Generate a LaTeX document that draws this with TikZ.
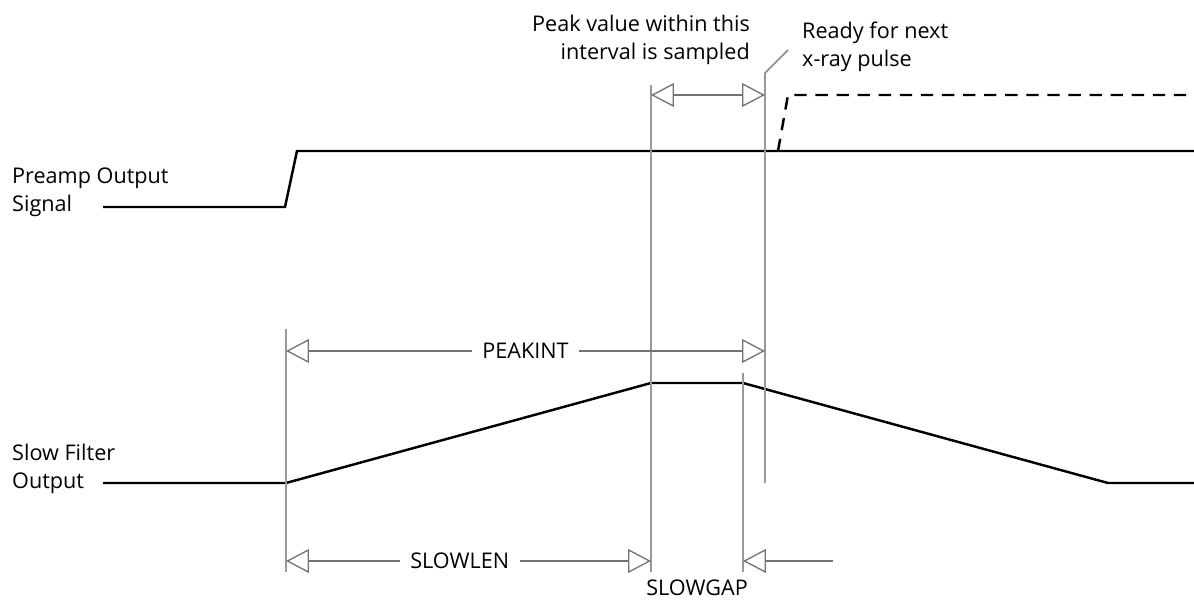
\documentclass[tikz,border=0pt]{standalone}
\usepackage{fontspec}
\setmainfont{Open Sans}
\usetikzlibrary{arrows.meta}

\tikzset{
  signal/.style={line width=1.4pt, black},
  marker/.style={line width=1.1pt, black!40},
  dimline/.style={line width=0.75pt, black!55},
  dimlabel/.style={fill=white, text=black, inner sep=6pt},
  sigtext/.style={anchor=west, align=left},
}

\begin{document}
\begin{tikzpicture}[x=0.02cm, y=-0.02cm, font=\fontsize{12.3}{16}\selectfont,
  >={Triangle[open, length=13pt, width=13.5pt]}]

\useasboundingbox (0,0) rectangle (1194,601);

% =====================================================================
% Time marks (x in px, y grows downward)
% =====================================================================
\coordinate (trigTop)  at (286,329);
\coordinate (trigBot)  at (286,572);
\coordinate (peakTop)  at (651,85);
\coordinate (peakBot)  at (651,572);
\coordinate (gapTop)   at (743,373);
\coordinate (gapBot)   at (743,572);
\coordinate (readyTop) at (765,73);
\coordinate (readyBot) at (765,483);
\coordinate (readyLdr) at (788,50);

% =====================================================================
% Signal labels
% =====================================================================
\node[sigtext] (preamp)   at (6,192) {Preamp Output\\Signal};
\node[sigtext] (slowfilt) at (6,469) {Slow Filter\\Output};

% =====================================================================
% Preamp output: step, plus dashed next pulse
% =====================================================================
\draw[signal] (103,207) -- (285,207) -- (297,151) -- (1194,151);
\draw[signal, dash pattern=on 7pt off 5pt] (778,151) -- (788,95) -- (1194,95);

% =====================================================================
% Slow filter output: trapezoid
% =====================================================================
\draw[signal] (103,483) -- (286,483) -- (651,383) -- (743,383)
  -- (1108,483) -- (1194,483);

% =====================================================================
% Vertical time marks
% =====================================================================
\draw[marker] (trigTop) -- (trigBot);
\draw[marker] (peakTop) -- (peakBot);
\draw[marker] (gapTop) -- (gapBot);
\draw[marker] (readyLdr) -- (readyTop) -- (readyBot);

% =====================================================================
% Dimension arrows
% =====================================================================

% sampling interval (top)
\draw[dimline, <->] (peakTop |- 0,95) -- (readyTop |- 0,95);

% PEAKINT
\draw[dimline, <->] (trigTop |- 0,351) -- (readyTop |- 0,351)
  node[midway, dimlabel] (peakint) {PEAKINT};

% SLOWLEN
\draw[dimline, <->] (trigTop |- 0,561) -- (peakTop |- 0,561)
  node[midway, dimlabel, xshift=-5] (slowlen) {SLOWLEN};

% SLOWGAP (arrow from outside)
\draw[dimline, ->] (833,561) -- (gapTop |- 0,561);
\node (slowgap) at (697,588) {SLOWGAP};

% =====================================================================
% Notes
% =====================================================================
\node[anchor=east, align=right] (peaknote) at (756,40)
  {Peak value within this\\interval is sampled};
\node[anchor=west, align=left] (readynote) at (796,47)
  {Ready for next\\x-ray pulse};

\end{tikzpicture}
\end{document}
